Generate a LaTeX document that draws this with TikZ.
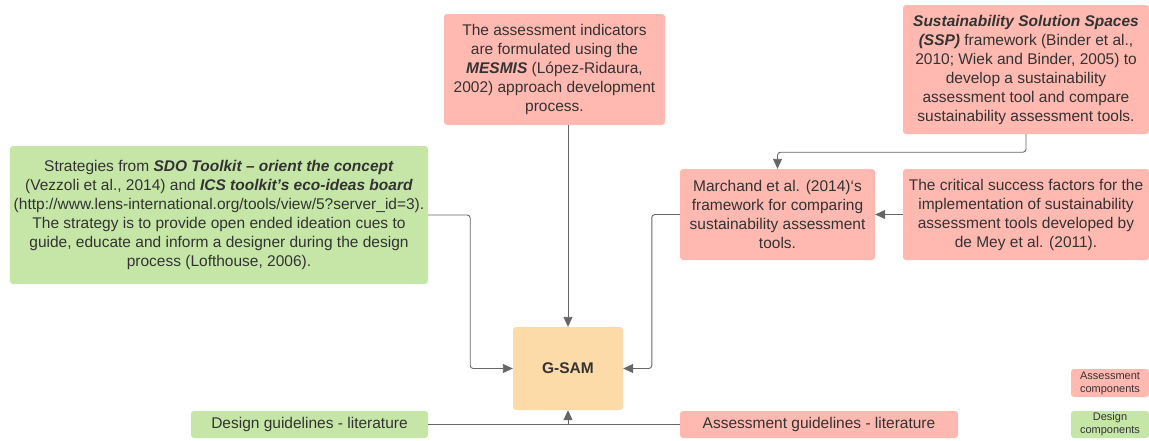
\documentclass[tikz,border=0pt]{standalone}
\usepackage{fontspec}
\setmainfont{Liberation Sans}
\usetikzlibrary{arrows.meta}
\definecolor{assesscol}{HTML}{FFB9B0}
\definecolor{designcol}{HTML}{C6E6A8}
\definecolor{coreclr}{HTML}{FDDBA8}
\definecolor{txtcol}{HTML}{333333}
\definecolor{linecol}{HTML}{666666}
\newcommand{\bi}[1]{\textbf{\textit{#1}}}
\begin{document}
\begin{tikzpicture}[x=1pt,y=-1pt,
  box/.style={rounded corners=3pt, align=center, text=txtcol, inner sep=1pt,
    font=\fontsize{15.5}{19}\selectfont},
  assess/.style={box, fill=assesscol},
  design/.style={box, fill=designcol},
  legendbox/.style={rounded corners=3pt, align=center, text=txtcol, inner sep=1pt,
    font=\fontsize{11}{13}\selectfont},
  link/.style={draw=linecol, line width=0.9pt, rounded corners=3pt,
    -{Triangle[length=10pt,width=9pt]}}]
  \useasboundingbox (0,0) rectangle (1149,440);
  % assessment side
  \node[assess, minimum width=221pt, minimum height=111pt] (mesmis) at (554.5,69.5)
    {The assessment indicators\\are formulated using the\\\bi{MESMIS} (López-Ridaura,\\2002) approach development\\process.};
  \node[assess, minimum width=246pt, minimum height=129pt] (ssp) at (1026,69.5)
    {\bi{Sustainability Solution Spaces}\\\bi{(SSP)} framework (Binder et al.,\\2010; Wiek and Binder, 2005) to\\develop a sustainability\\assessment tool and compare\\sustainability assessment tools.};
  \node[assess, minimum width=195pt, minimum height=91pt] (marchand) at (777.5,214.5)
    {Marchand et al. (2014)‘s\\framework for comparing\\sustainability assessment\\tools.};
  \node[assess, minimum width=246pt, minimum height=91pt] (csf) at (1026,214.5)
    {The critical success factors for the\\implementation of sustainability\\assessment tools developed by\\de Mey et al. (2011).};
  % design side
  \node[design, minimum width=418pt, minimum height=138pt] (sdo) at (219,215)
    {Strategies from \bi{SDO Toolkit – orient the concept}\\(Vezzoli et al., 2014) and \bi{ICS toolkit’s eco-ideas board}\\(http://www.lens-international.org/tools/view/5?server\_id=3).\\The strategy is to provide open ended ideation cues to\\guide, educate and inform a designer during the design\\process (Lofthouse, 2006).};
  % centre
  \node[box, fill=coreclr, minimum width=110pt, minimum height=83pt, font=\fontsize{15.5}{19}\selectfont\bfseries] (gsam) at (568,368.5) {G-SAM};
  % literature
  \node[design, minimum width=237pt, minimum height=27pt] (dglit) at (309.5,424.5) {Design guidelines - literature};
  \node[assess, minimum width=278pt, minimum height=27pt] (aglit) at (819,424.5) {Assessment guidelines - literature};
  % legend
  \node[legendbox, fill=assesscol, minimum width=78pt, minimum height=28pt] (legA) at (1110,383) {Assessment\\components};
  \node[legendbox, fill=designcol, minimum width=78pt, minimum height=27pt] (legD) at (1110,424.5) {Design\\components};
  % connectors
  \coordinate (join) at (gsam.south |- dglit.east);
  \draw[link] (mesmis.south -| gsam.north) -- (gsam.north);
  \draw[link] (ssp.south) -- ++(0,18) -| (marchand.north);
  \draw[link] (csf.west) -- (marchand.east);
  \draw[link] (marchand.west) -- ++(-28,0) |- (gsam.east);
  \draw[link] (sdo.east) -- ++(42,0) |- (gsam.west);
  \draw[draw=linecol, line width=0.9pt] (dglit.east) -- (join) -- (aglit.west);
  \draw[link] (join) -- (gsam.south);
\end{tikzpicture}
\end{document}
